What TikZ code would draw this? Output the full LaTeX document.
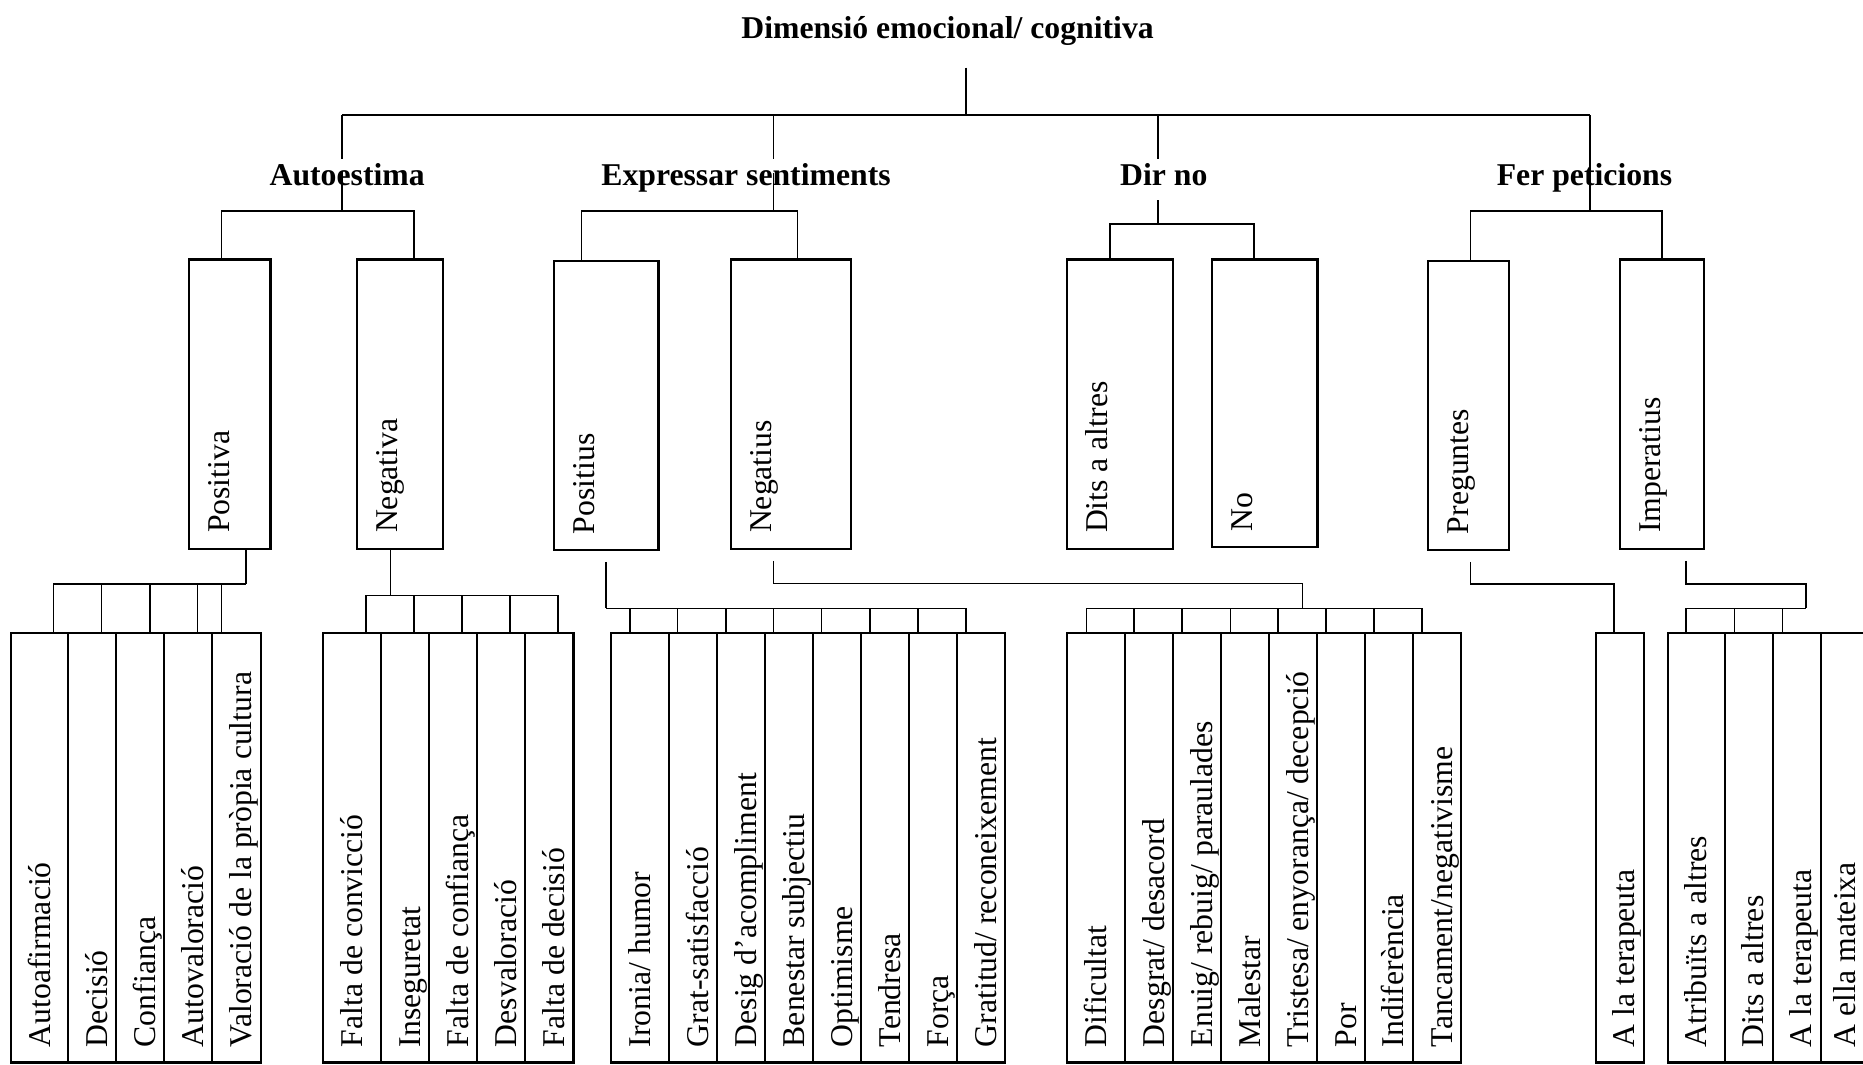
\documentclass[tikz,border=0pt]{standalone}
\usepackage{fontspec}
\setmainfont{Liberation Serif}
\usetikzlibrary{fit,calc}

% framed box spanning two corners
\newcommand\boxnode[5]{\node[frame, fit={(#2,#3) (#4,#5)}] (#1) {};}
% upright-reading (rotated) labels inside the boxes
\newcommand\midtext[2]{\node[vtext] (#1-t) at ([xshift=17.5pt,yshift=7pt]#1.south west) {#2};}
\newcommand\leaftext[2]{\node[vtext] (#1-t) at ([xshift=17pt,yshift=6.75pt]#1.south west) {#2};}

\begin{document}
\begin{tikzpicture}[x=0.5pt, y=-0.5pt,
  conn/.style={line width=0.65pt},
  frame/.style={draw, line width=0.95pt, inner sep=0pt},
  head/.style={font=\fontsize{13.35}{16}\selectfont\bfseries, inner xsep=0pt, inner ysep=1.5pt, anchor=base},
  vtext/.style={font=\fontsize{13.35}{16}\selectfont, inner sep=0pt, rotate=90, anchor=base west}]
\useasboundingbox (0,0) rectangle (1568,896);
\clip (0,0) rectangle (1568,896);

% ---------- title and first level ----------
\coordinate (stem) at (813,57);
\coordinate (hub)  at (813,97);
\coordinate (j1) at (288,97);
\coordinate (j2) at (651,97);
\coordinate (j3) at (974.5,97);
\coordinate (j4) at (1338,97);
\coordinate (b1) at (288,177.5);
\coordinate (b2) at (651,177.5);
\coordinate (b3) at (974.5,188.5);
\coordinate (b4) at (1338,177.5);

\draw[conn] (stem) -- (hub);
\draw[conn] (j1) -- (j4);
\draw[conn] (j4) -- (b4);

\node[head] (title) at (797.5,32.5) {Dimensió emocional/ cognitiva};
\node[head] (h1) at (292.2,156) {Autoestima};
\node[head] (h2) at (627.9,156) {Expressar sentiments};
\node[head] (h3) at (979.5,156) {Dir no};
\node[head] (h4) at (1333.6,156) {Fer peticions};

\draw[conn] (j1) -- (j1 |- h1.north);
\draw[conn] (j2) -- (j2 |- h2.north);
\draw[conn] (j3) -- (j3 |- h3.north);
\draw[conn] (b1) -- ($(b1 |- h1.base)+(0,-12)$);
\draw[conn] (b2) -- ($(b2 |- h2.base)+(0,-10)$);
\draw[conn] (b3) -- ($(b3 |- h3.base)+(0,12)$);

% ---------- second level boxes ----------
\boxnode{pa}{159}{218.5}{227.7}{462}
\boxnode{na}{300.2}{218.5}{372.7}{462}
\boxnode{pe}{466.3}{219.5}{554.3}{463}
\boxnode{ne}{615.3}{218.5}{716.4}{462}
\boxnode{da}{898.1}{218.5}{987.3}{462}
\boxnode{no}{1019.8}{218.5}{1108.9}{460.5}
\boxnode{pr}{1201.9}{219.5}{1270}{463}
\boxnode{im}{1363.5}{218.5}{1434.1}{462}

\midtext{pa}{Positiva}
\midtext{na}{Negativa}
\midtext{pe}{Positius}
\midtext{ne}{Negatius}
\midtext{da}{Dits a altres}
\midtext{no}{No}
\midtext{pr}{Preguntes}
\midtext{im}{Imperatius}

\draw[conn] (pa.north -| 186.5,0) |- (b1) -| (na.north -| 348.5,0);
\draw[conn] (pe.north -| 489.5,0) |- (b2) -| (ne.north -| 671.3,0);
\draw[conn] (da.north -| 934.2,0) |- (b3) -| (no.north -| 1055.3,0);
\draw[conn] (pr.north -| 1237.5,0) |- (b4) -| (im.north -| 1399,0);

% ---------- third level boxes ----------
% Autoestima / Positiva
\boxnode{l1a}{9.5}{532.5}{57.2}{894.3}
\boxnode{l1b}{57.2}{532.5}{97.9}{894.3}
\boxnode{l1c}{97.9}{532.5}{138.1}{894.3}
\boxnode{l1d}{138.1}{532.5}{178.7}{894.3}
\boxnode{l1e}{178.7}{532.5}{219.7}{894.3}
\leaftext{l1a}{Autoafirmació}
\leaftext{l1b}{Decisió}
\leaftext{l1c}{Confiança}
\leaftext{l1d}{Autovaloració}
\leaftext{l1e}{Valoració de la pròpia cultura}

% Autoestima / Negativa
\boxnode{l2a}{271.9}{532.5}{320.5}{894.3}
\boxnode{l2b}{320.5}{532.5}{361.1}{894.3}
\boxnode{l2c}{361.1}{532.5}{401.7}{894.3}
\boxnode{l2d}{401.7}{532.5}{442}{894.3}
\boxnode{l2e}{442}{532.5}{482.6}{894.3}
\leaftext{l2a}{Falta de convicció}
\leaftext{l2b}{Inseguretat}
\leaftext{l2c}{Falta de confiança}
\leaftext{l2d}{Desvaloració}
\leaftext{l2e}{Falta de decisió}

% Expressar sentiments / Positius
\boxnode{l3a}{514.3}{532.5}{563.1}{894.3}
\boxnode{l3b}{563.1}{532.5}{603.5}{894.3}
\boxnode{l3c}{603.5}{532.5}{643.9}{894.3}
\boxnode{l3d}{643.9}{532.5}{684.3}{894.3}
\boxnode{l3e}{684.3}{532.5}{724.7}{894.3}
\boxnode{l3f}{724.7}{532.5}{765.1}{894.3}
\boxnode{l3g}{765.1}{532.5}{805.5}{894.3}
\boxnode{l3h}{805.5}{532.5}{845.9}{894.3}
\leaftext{l3a}{Ironia/ humor}
\leaftext{l3b}{Grat-satisfacció}
\leaftext{l3c}{Desig d’acompliment}
\leaftext{l3d}{Benestar subjectiu}
\leaftext{l3e}{Optimisme}
\leaftext{l3f}{Tendresa}
\leaftext{l3g}{Força}
\leaftext{l3h}{Gratitud/ reconeixement}

% Expressar sentiments / Negatius
\boxnode{l4a}{898.1}{532.5}{947}{894.3}
\boxnode{l4b}{947}{532.5}{987.2}{894.3}
\boxnode{l4c}{987.2}{532.5}{1027.7}{894.3}
\boxnode{l4d}{1027.7}{532.5}{1068.3}{894.3}
\boxnode{l4e}{1068.3}{532.5}{1108.5}{894.3}
\boxnode{l4f}{1108.5}{532.5}{1148.6}{894.3}
\boxnode{l4g}{1148.6}{532.5}{1189.2}{894.3}
\boxnode{l4h}{1189.2}{532.5}{1229.8}{894.3}
\leaftext{l4a}{Dificultat}
\leaftext{l4b}{Desgrat/ desacord}
\leaftext{l4c}{Enuig/ rebuig/ paraulades}
\leaftext{l4d}{Malestar}
\leaftext{l4e}{Tristesa/ enyorança/ decepció}
\leaftext{l4f}{Por}
\leaftext{l4g}{Indiferència}
\leaftext{l4h}{Tancament/negativisme}

% Fer peticions / Preguntes
\boxnode{l5a}{1343}{532.5}{1383.7}{894.3}
\leaftext{l5a}{A la terapeuta}

% Fer peticions / Imperatius
\boxnode{l6a}{1403.6}{532.5}{1451.6}{894.3}
\boxnode{l6b}{1451.6}{532.5}{1492}{894.3}
\boxnode{l6c}{1492}{532.5}{1532.5}{894.3}
\boxnode{l6d}{1532.5}{532.5}{1580}{894.3}
\leaftext{l6a}{Atribuïts a altres}
\leaftext{l6b}{Dits a altres}
\leaftext{l6c}{A la terapeuta}
\node[vtext] (l6d-t) at ([xshift=15pt,yshift=6.75pt]l6d.south west) {A ella mateixa};

% ---------- connectors to the third level ----------
\coordinate (g1) at (207,491.6);
\draw[conn] (pa.south -| g1) -- (g1);
\foreach \n/\x in {l1a/44.9, l1b/85.5, l1c/126.1, l1d/166.4, l1e/186.4}
  \draw[conn] (\n.north -| \x,0) |- (g1);

\coordinate (g2) at (328.5,501.2);
\draw[conn] (na.south -| g2) -- (g2);
\foreach \n/\x in {l2a/307.9, l2b/348.4, l2c/388.7, l2d/429.3, l2e/469.6}
  \draw[conn] (\n.north -| \x,0) |- (g2);

\coordinate (g3) at (510,512);
\draw[conn] ($(pe.south -| g3)+(0,9)$) -- (g3);
\foreach \n/\x in {l3a/530.2, l3b/570.4, l3c/611.1, l3d/651.2, l3e/691.6, l3f/732.2, l3g/772.6, l3h/813.1}
  \draw[conn] (\n.north -| \x,0) |- (g3);

\coordinate (g4k) at (651,491);
\coordinate (g4) at (1096.2,512);
\draw[conn] ($(ne.south -| g4k)+(0,9)$) -- (g4k) -| (g4);
\foreach \n/\x in {l4a/914.3, l4b/954.4, l4c/995, l4d/1035.6, l4e/1075.7, l4f/1115.9, l4g/1156.4, l4h/1196.7}
  \draw[conn] (\n.north -| \x,0) |- (g4);

\coordinate (g5) at (1237.5,491.5);
\draw[conn] ($(pr.south -| g5)+(0,9)$) -- (g5) -| (l5a.north -| 1358.5,0);

\coordinate (g6k) at (1419.1,491.5);
\coordinate (g6) at (1520,512);
\draw[conn] ($(im.south -| g6k)+(0,9)$) -- (g6k) -| (g6);
\foreach \n/\x in {l6a/1419.1, l6b/1459.7, l6c/1500.1}
  \draw[conn] (\n.north -| \x,0) |- (g6);
\end{tikzpicture}
\end{document}
